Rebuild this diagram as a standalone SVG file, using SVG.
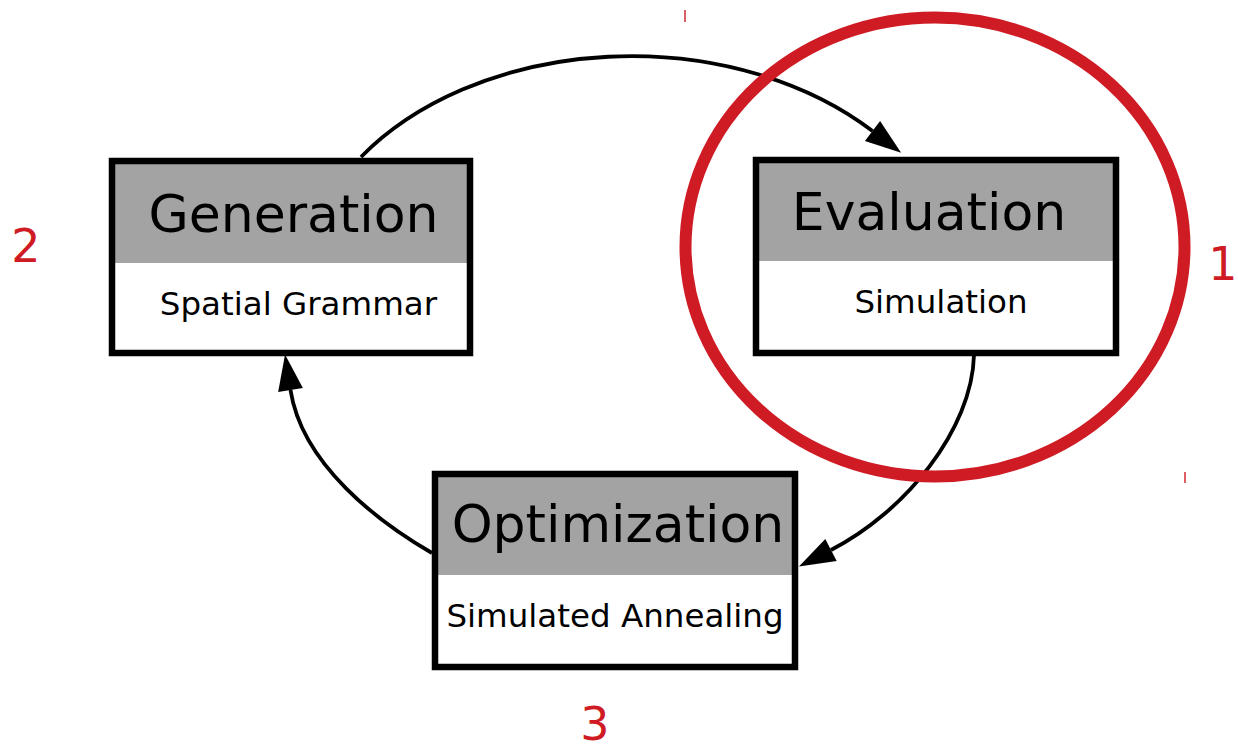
<svg xmlns="http://www.w3.org/2000/svg" width="1238" height="747" viewBox="0 0 1238 747">
<style>
.box{fill:none;stroke:#000;stroke-width:6.5}
.body{fill:#fff}
.head{fill:#a3a3a3}
.title{font-family:"DejaVu Sans",sans-serif;font-size:52px;fill:#000;text-anchor:middle}
.sub{font-family:"DejaVu Sans",sans-serif;font-size:32.5px;fill:#000;text-anchor:middle}
.num{font-family:"DejaVu Sans",sans-serif;font-size:46px;fill:#cf1b24;text-anchor:middle}
.edge{fill:none;stroke:#000;stroke-width:3.8}
.tick{stroke:#d02a30;stroke-width:1.5}
</style>
<defs>
<marker id="arrow" markerUnits="userSpaceOnUse" markerWidth="37" markerHeight="26" refX="0" refY="12.5" orient="auto" overflow="visible">
<path d="M0,0 L36,12.5 L0,25 z" fill="#000"/>
</marker>
</defs>
<rect width="1238" height="747" fill="#fff"/>
<g id="connectors">
<path class="edge" d="M361,157 A331 238 0 0 1 872.5,131" marker-end="url(#arrow)"/>
<path class="edge" d="M974,355 C972,430 905,512 831,550" marker-end="url(#arrow)"/>
<path class="edge" d="M432,553 C380,523 302,465 290.5,390" marker-end="url(#arrow)"/>
</g>
<g id="generation">
<rect class="body" x="112" y="161" width="358" height="192"/>
<rect class="head" x="112" y="161" width="358" height="102"/>
<rect class="box" x="112" y="161" width="358" height="192"/>
<text class="title" x="293.5" y="232">Generation</text>
<text class="sub" x="298.5" y="315">Spatial Grammar</text>
</g>
<g id="evaluation">
<rect class="body" x="756" y="160" width="360" height="193"/>
<rect class="head" x="756" y="160" width="360" height="101"/>
<rect class="box" x="756" y="160" width="360" height="193"/>
<text class="title" x="929" y="230">Evaluation</text>
<text class="sub" x="941" y="313">Simulation</text>
</g>
<g id="optimization">
<rect class="body" x="435" y="474" width="360" height="193"/>
<rect class="head" x="435" y="474" width="360" height="101"/>
<rect class="box" x="435" y="474" width="360" height="193"/>
<text class="title" x="618" y="542">Optimization</text>
<text class="sub" x="615" y="627">Simulated Annealing</text>
</g>
<g id="highlight">
<ellipse cx="935" cy="247" rx="249.5" ry="229.5" fill="none" stroke="#cf1b24" stroke-width="12"/>
</g>
<g id="labels">
<text class="num" x="1223" y="280">1</text>
<text class="num" x="26" y="262">2</text>
<text class="num" x="595" y="740">3</text>
</g>
<g id="ticks">
<line class="tick" x1="685" y1="10" x2="685" y2="22"/>
<line class="tick" x1="1185" y1="472" x2="1185" y2="483"/>
</g>
</svg>
